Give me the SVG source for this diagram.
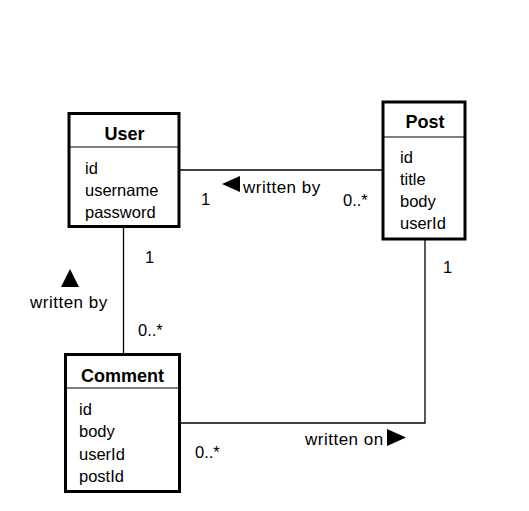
<svg xmlns="http://www.w3.org/2000/svg" width="529" height="511" viewBox="0 0 529 511">
<style>
text{font-family:"Liberation Sans",Arial,sans-serif;font-size:16.5px;fill:#000}
.title{font-weight:bold;text-anchor:middle;font-size:18px}
.box{fill:#fff;stroke:#000;stroke-width:3}
.sep{stroke:#000;stroke-width:1}
.conn{fill:none;stroke:#000;stroke-width:1.3}
.lbl{letter-spacing:0.5px;font-size:17px}
</style>
<rect width="529" height="511" fill="#fff"/>
<g id="connectors">
<path class="conn" d="M180,170 H383"/>
<path class="conn" d="M123.5,228 V354"/>
<path class="conn" d="M425,240 V423 H180"/>
<text x="201" y="205">1</text>
<text x="343" y="206">0..*</text>
<polygon points="222,184 240,176 240,192"/>
<text class="lbl" x="243" y="193">written by</text>
<text x="145" y="263">1</text>
<text x="138" y="336">0..*</text>
<polygon points="70,269 61,287 79,287"/>
<text class="lbl" x="30" y="308">written by</text>
<text x="443" y="273">1</text>
<text x="195" y="458">0..*</text>
<text class="lbl" x="305" y="445">written on</text>
<polygon points="387,429 387,446 406,437.5"/>
</g>
<g id="User">
<rect class="box" x="69" y="113.5" width="110" height="113"/>
<line class="sep" x1="69" y1="147" x2="179" y2="147"/>
<text class="title" x="124.5" y="140">User</text>
<text x="85" y="174">id</text>
<text x="85" y="196">username</text>
<text x="85" y="218">password</text>
</g>
<g id="Post">
<rect class="box" x="383" y="102" width="82" height="137"/>
<line class="sep" x1="383" y1="137" x2="465" y2="137"/>
<text class="title" x="425" y="128">Post</text>
<text x="400" y="163">id</text>
<text x="400" y="185">title</text>
<text x="400" y="207">body</text>
<text x="400" y="229">userId</text>
</g>
<g id="Comment">
<rect class="box" x="65.5" y="354.5" width="114" height="137"/>
<line class="sep" x1="65.5" y1="388" x2="179.5" y2="388"/>
<text class="title" x="122.5" y="382">Comment</text>
<text x="79" y="415">id</text>
<text x="79" y="437">body</text>
<text x="79" y="460">userId</text>
<text x="79" y="482">postId</text>
</g>
</svg>
